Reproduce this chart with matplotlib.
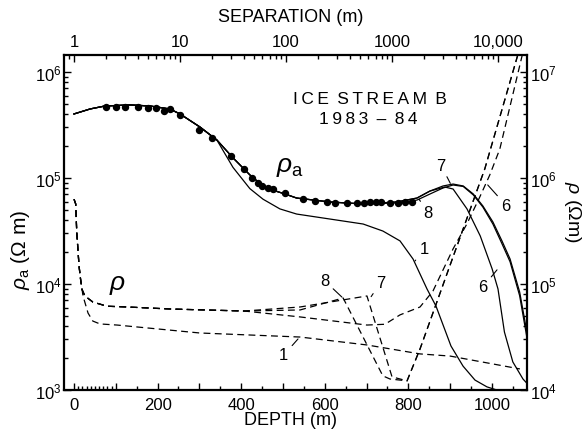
import matplotlib
matplotlib.use('Agg')
import matplotlib.pyplot as plt
from matplotlib.ticker import FixedLocator, LogLocator, NullFormatter, FixedFormatter

plt.rcParams['font.family'] = ['Liberation Sans', 'DejaVu Sans']
plt.rcParams['mathtext.fontset'] = 'custom'
plt.rcParams['mathtext.rm'] = 'Liberation Sans'
plt.rcParams['mathtext.it'] = 'Liberation Sans:italic'
plt.rcParams['mathtext.bf'] = 'Liberation Sans:bold'

# ---------------- data: apparent resistivity (separation, rho_a) ----------------
sep_dots = [2.0, 2.5, 3.0, 4.0, 5.0, 6.0, 7.0, 8.0, 10, 15, 20, 30, 40, 48, 55, 60, 68, 75,
            98, 145, 188, 244, 290, 375, 467, 545, 620, 705, 785, 955, 1140, 1325, 1530]
rhoa_dots = [4.68e5, 4.68e5, 4.68e5, 4.68e5, 4.57e5, 4.57e5, 4.28e5, 4.48e5, 3.93e5, 2.84e5,
             2.38e5, 1.61e5, 1.22e5, 1.0e5, 8.98e4, 8.4e4, 8.05e4, 7.87e4,
             7.2e4, 6.33e4, 6.07e4, 5.94e4, 5.81e4, 5.81e4, 5.81e4, 5.81e4, 5.94e4, 5.94e4,
             5.94e4, 5.81e4, 5.81e4, 5.94e4, 5.94e4]

sep_7 = [1.0, 1.42, 1.96, 3.38, 5.2, 8.0, 10, 15.4, 22.3, 31.6, 45.6, 60.7, 70.7, 98, 126, 260,
         534, 1100, 1720, 2280, 3030, 3770, 4700, 5850, 7200, 8950, 10900, 13000, 16000, 18700]
rhoa_7 = [4.02e5, 4.48e5, 4.78e5, 4.89e5, 4.78e5, 4.48e5, 4.02e5, 3.03e5, 2.28e5, 1.55e5, 1.07e5,
          8.41e4, 7.83e4, 7.06e4, 6.47e4, 5.94e4, 5.69e4, 5.94e4, 6.47e4, 7.53e4, 8.41e4, 8.77e4,
          8.41e4, 7.06e4, 5.45e4, 3.85e4, 2.55e4, 1.72e4, 8.41e3, 3.55e3]

sep_8 = [1.0, 1.42, 1.96, 3.38, 5.2, 8.0, 10, 15.4, 22.3, 31.6, 45.6, 60.7, 70.7, 98, 126, 260,
         534, 1100, 1720, 2280, 3030, 3770, 4700, 5850, 7200, 8950, 10900, 13000, 16000, 18700]
rhoa_8 = [4.02e5, 4.48e5, 4.78e5, 4.89e5, 4.78e5, 4.48e5, 4.02e5, 3.03e5, 2.28e5, 1.55e5, 1.07e5,
          8.41e4, 7.83e4, 7.06e4, 6.47e4, 5.94e4, 5.69e4, 5.81e4, 6.19e4, 7.06e4, 8.05e4, 8.59e4,
          8.32e4, 6.92e4, 5.32e4, 3.68e4, 2.4e4, 1.62e4, 7.76e3, 3.16e3]

sep_6 = [1.0, 1.42, 1.96, 3.38, 5.2, 8.0, 10, 15.4, 22.3, 31.6, 45.6, 60.7, 70.7, 98, 126, 260,
         534, 1100, 1720, 2280, 3150, 3770, 5100, 6800, 8800, 10000, 11500, 13800, 17200, 18700]
rhoa_6 = [4.02e5, 4.48e5, 4.78e5, 4.89e5, 4.78e5, 4.48e5, 4.02e5, 3.03e5, 2.28e5, 1.55e5, 1.07e5,
          8.41e4, 7.83e4, 7.06e4, 6.47e4, 5.94e4, 5.69e4, 5.94e4, 6.47e4, 7.53e4, 8.22e4, 7.87e4,
          5.11e4, 2.84e4, 1.39e4, 8.97e3, 3.52e3, 1.84e3, 1.27e3, 1.16e3]

sep_1 = [1.0, 1.42, 1.96, 3.38, 5.2, 8.0, 10, 15.4, 22.3, 31.6, 45.6, 60.7, 87.6, 126, 260, 534,
         820, 1190, 1580, 2140, 2600, 3600, 4680, 6070, 7870, 10400]
rhoa_1 = [4.02e5, 4.48e5, 4.78e5, 4.89e5, 4.78e5, 4.48e5, 4.02e5, 3.03e5, 2.28e5, 1.26e5, 7.94e4,
          6.31e4, 5.11e4, 4.57e4, 4.1e4, 3.68e4, 3.16e4, 2.55e4, 1.72e4, 8.97e3, 6.19e3, 2.6e3,
          1.68e3, 1.24e3, 1.07e3, 9.8e2]

# ---------------- data: layered models (depth, rho) ----------------
depth_m1 = [0, 4, 6.5, 12, 15.5, 21.5, 33.5, 45, 62, 103, 301, 541, 701, 828, 900, 1067]
rho_m1 = [6.31e5, 5.69e5, 3.09e5, 1.48e5, 1.12e5, 7.71e4, 5.32e4, 4.47e4, 4.2e4, 4.1e4, 3.45e4,
          3.16e4, 2.66e4, 2.19e4, 2.09e4, 1.58e4]

depth_m6 = [0, 4, 6.5, 12, 15.5, 19, 26, 45, 79, 127, 230, 407, 541, 701, 744, 780, 828, 859,
            907, 940, 971, 995, 1019, 1072, 1080]
rho_m6 = [6.31e5, 5.69e5, 3.09e5, 1.48e5, 1.12e5, 8.91e4, 7.71e4, 6.76e4, 6.17e4, 6.07e4, 5.81e4,
          5.56e4, 4.89e4, 4.1e4, 4.17e4, 5.11e4, 6.07e4, 8.59e4, 2.14e5, 3.68e5, 6.62e5, 1.07e6,
          1.88e6, 1.41e7, 2.0e7]

depth_m7 = [0, 4, 6.5, 12, 15.5, 19, 26, 45, 79, 127, 230, 407, 541, 701, 761, 797, 828, 907,
            983, 1062, 1070]
rho_m7 = [6.31e5, 5.69e5, 3.09e5, 1.48e5, 1.12e5, 8.91e4, 7.71e4, 6.76e4, 6.17e4, 6.07e4, 5.81e4,
          5.56e4, 6.07e4, 7.71e4, 1.33e4, 1.22e4, 2.44e4, 1.8e5, 1.22e6, 1.45e7, 2.0e7]

depth_m8 = [0, 4, 6.5, 12, 15.5, 19, 26, 45, 79, 127, 230, 407, 541, 644, 739, 756, 797, 828,
            907, 983, 1062, 1070]
rho_m8 = [6.31e5, 5.69e5, 3.09e5, 1.48e5, 1.12e5, 8.91e4, 7.71e4, 6.76e4, 6.17e4, 6.07e4, 5.81e4,
          5.56e4, 5.69e4, 7.38e4, 1.36e4, 1.27e4, 1.22e4, 2.44e4, 1.8e5, 1.22e6, 1.45e7, 2.0e7]

sep_ticks = [1, 10, 100, 1000, 10000]
sep_ticklabels = ['1', '10', '100', '1000', '10,000']
depth_ticks = [0, 100, 200, 300, 400, 500, 600, 700, 800, 900, 1000]
depth_ticklabels = ['0', '', '200', '', '400', '', '600', '', '800', '', '1000']
depth_minor = [10, 20, 30, 40, 50, 60, 70, 80, 90, 150, 250, 350, 450, 550, 650, 750, 850, 950, 1050]

# ---------------- figure ----------------
W, H = 583, 435
fig = plt.figure(figsize=(W / 100, H / 100), dpi=100)
L, T, R, B = 64, 56, 527, 391
pos = [L / W, 1 - B / H, (R - L) / W, (B - T) / H]

axA = fig.add_axes(pos)
axA.set_xscale('log')
axA.set_yscale('log')
axA.set_xlim(10 ** (-10 / 106), 10 ** (453 / 106))
axA.set_ylim(1e3, 10 ** (3 + 335 / 106))

axR = fig.add_axes(pos, frameon=False)
axR.patch.set_visible(False)
axR.set_yscale('log')
axR.set_xlim(-24, 1084)
axR.set_ylim(1e4, 10 ** (4 + 335 / 106))

for sp in axA.spines.values():
    sp.set_linewidth(1.6)

# ticks for the apparent-resistivity axes (top / left)
axA.xaxis.tick_top()
axA.yaxis.tick_left()
axA.xaxis.set_major_locator(FixedLocator(sep_ticks))
axA.xaxis.set_major_formatter(FixedFormatter(sep_ticklabels))
axA.xaxis.set_minor_locator(LogLocator(base=10, subs=range(2, 10)))
axA.xaxis.set_minor_formatter(NullFormatter())
axA.yaxis.set_major_locator(LogLocator(base=10))
axA.yaxis.set_minor_locator(LogLocator(base=10, subs=range(2, 10)))
axA.yaxis.set_minor_formatter(NullFormatter())
axA.tick_params(which='both', direction='in', width=1, labelsize=12)
axA.tick_params(which='major', length=5)
axA.tick_params(which='minor', length=3)
axA.tick_params(axis='x', pad=4)
axA.tick_params(axis='y', pad=1.5)

# ticks for the model axes (bottom / right)
axR.xaxis.tick_bottom()
axR.yaxis.tick_right()
axR.xaxis.set_major_locator(FixedLocator(depth_ticks))
axR.xaxis.set_major_formatter(FixedFormatter(depth_ticklabels))
axR.xaxis.set_minor_locator(FixedLocator(depth_minor))
axR.yaxis.set_major_locator(LogLocator(base=10))
axR.yaxis.set_minor_locator(LogLocator(base=10, subs=range(2, 10)))
axR.yaxis.set_minor_formatter(NullFormatter())
axR.tick_params(which='both', direction='in', width=1, labelsize=12)
axR.tick_params(which='major', length=5)
axR.tick_params(which='minor', length=3)
axR.tick_params(axis='x', pad=5)
axR.tick_params(axis='y', pad=2)

# solid curves: apparent resistivity
lw = 0.9
axA.plot(sep_7, rhoa_7, color='k', lw=lw)
axA.plot(sep_8, rhoa_8, color='k', lw=lw)
axA.plot(sep_6, rhoa_6, color='k', lw=lw)
axA.plot(sep_1, rhoa_1, color='k', lw=lw)
axA.plot(sep_dots, rhoa_dots, 'o', color='k', ms=4.3, mec='k')

# dashed curves: resistivity models
dash = (5.5, 3.5)
for d, r in [(depth_m1, rho_m1), (depth_m6, rho_m6), (depth_m7, rho_m7), (depth_m8, rho_m8)]:
    axR.plot(d, r, color='k', lw=0.9, ls=(0, dash))

# curve labels
arrow = dict(arrowstyle='-', lw=0.8, color='k', shrinkA=1, shrinkB=0)
fs = 12
axA.annotate('7', xy=(3550, 8.9e4), xytext=(2900, 1.32e5), fontsize=fs, ha='center', va='center', arrowprops=arrow)
axA.annotate('8', xy=(1800, 6.3e4), xytext=(2190, 4.7e4), fontsize=fs, ha='center', va='center', arrowprops=arrow)
axA.annotate('6', xy=(9790, 1.36e4), xytext=(7220, 9.37e3), fontsize=fs, ha='center', va='center', arrowprops=arrow)
axA.annotate('1', xy=(1650, 1.65e4), xytext=(2000, 2.14e4), fontsize=fs, ha='center', va='center', arrowprops=arrow)
axR.annotate('6', xy=(990, 8.6e5), xytext=(1033, 5.56e5), fontsize=fs, ha='center', va='center', arrowprops=arrow)
axR.annotate('8', xy=(641, 7.53e4), xytext=(600, 1.07e5), fontsize=fs, ha='center', va='center', arrowprops=arrow)
axR.annotate('7', xy=(711, 7.6e4), xytext=(734, 1.04e5), fontsize=fs, ha='center', va='center', arrowprops=arrow)
axR.annotate('1', xy=(536, 3.03e4), xytext=(502, 2.14e4), fontsize=fs, ha='center', va='center', arrowprops=arrow)

axA.text(109, 1.3e5, r'$\rho_{\mathrm{a}}$', fontsize=19, ha='center', va='center')
axR.text(105, 1.0e5, r'$\rho$', fontsize=19, ha='center', va='center')

axA.text((370 - L) / (R - L), (B - 100) / (B - T), 'I\u2009C\u2009E\u2009 S\u2009T\u2009R\u2009E\u2009A\u2009M\u2009 B',
         transform=axA.transAxes, fontsize=12.5, ha='center', va='center')
axA.text((368 - L) / (R - L), (B - 120) / (B - T), '1\u20099\u20098\u20093\u2009 \u2013 \u20098\u20094',
         transform=axA.transAxes, fontsize=12.5, ha='center', va='center')

# axis titles
fig.text(291 / W, 1 - 18 / H, 'SEPARATION (m)', fontsize=13, ha='center', va='center')
fig.text(291 / W, 1 - 421 / H, 'DEPTH (m)', fontsize=13, ha='center', va='center')
fig.text(20 / W, 1 - 250 / H, r'$\rho_{\mathrm{a}}$ ($\Omega$ m)', fontsize=15, rotation=90,
         ha='center', va='center')
fig.text(572 / W, 1 - 212 / H, r'$\rho$ ($\Omega$m)', fontsize=14, rotation=270,
         ha='center', va='center')

fig.savefig('out.png', dpi=100)
